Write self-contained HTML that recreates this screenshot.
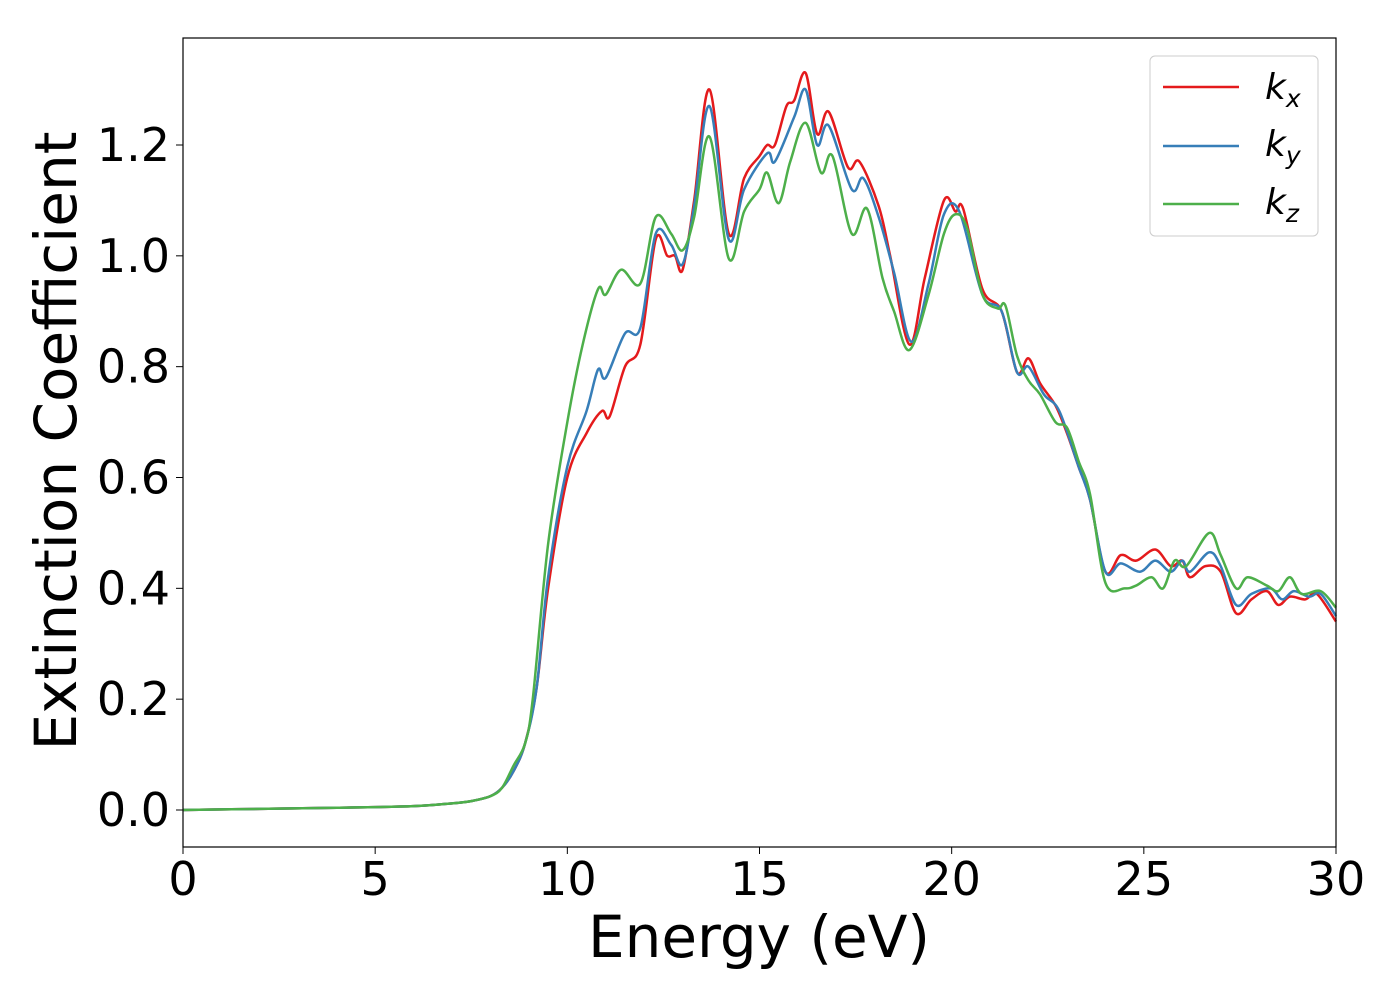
<!DOCTYPE html>
<html><head><meta charset="utf-8"><style>
body{margin:0;background:#fff}
svg text{font-family:"DejaVu Sans","Liberation Sans",sans-serif}
</style></head><body>
<svg id="chart" width="1400" height="1000" viewBox="0 0 1400 1000" xmlns="http://www.w3.org/2000/svg">
<g id="series"></g>
<rect x="183" y="38" width="1153" height="809" fill="none" stroke="#000" stroke-width="1.2"/>
<g id="axes"></g>
<text x="759" y="957" font-size="58" text-anchor="middle">Energy (eV)</text>
<text transform="translate(76,441) rotate(-90)" font-size="58" text-anchor="middle">Extinction Coefficient</text>
<g>
<rect x="1150" y="56" width="168" height="180" rx="5" fill="#fff" stroke="#ccc"/>
<line x1="1163" y1="87" x2="1239" y2="87" stroke="#e41a1c" stroke-width="2.5"/>
<line x1="1163" y1="146" x2="1239" y2="146" stroke="#377eb8" stroke-width="2.5"/>
<line x1="1163" y1="204" x2="1239" y2="204" stroke="#4daf4a" stroke-width="2.5"/>
<text x="1265" y="99" font-size="36" font-style="italic">k<tspan font-size="25" dy="8">x</tspan></text>
<text x="1265" y="156" font-size="36" font-style="italic">k<tspan font-size="25" dy="8">y</tspan></text>
<text x="1265" y="214" font-size="36" font-style="italic">k<tspan font-size="25" dy="8">z</tspan></text>
</g>
</svg>
<script>
const low=[[0,0],[2,0.002],[4,0.004],[6,0.007],[7,0.012],[7.5,0.016],[8,0.025],[8.3,0.04]];
const kxData=[[8.6,0.07],[8.9,0.12],[9.2,0.22],[9.5,0.4],[10,0.6],[10.5,0.68],[10.9,0.72],[11.1,0.71],[11.5,0.8],[11.9,0.84],[12.3,1.03],[12.6,1.0],[12.8,1.0],[13,0.975],[13.3,1.1],[13.7,1.3],[14.2,1.04],[14.6,1.14],[15,1.18],[15.2,1.2],[15.4,1.2],[15.7,1.27],[15.9,1.28],[16.2,1.33],[16.5,1.22],[16.8,1.26],[17.3,1.16],[17.6,1.17],[18.1,1.09],[18.4,1.0],[18.9,0.84],[19.3,0.96],[19.8,1.1],[20.1,1.08],[20.3,1.085],[20.8,0.94],[21.3,0.9],[21.7,0.79],[22,0.815],[22.3,0.77],[22.7,0.73],[23,0.68],[23.3,0.62],[23.6,0.56],[24,0.43],[24.4,0.46],[24.8,0.45],[25.3,0.47],[25.7,0.44],[26,0.45],[26.2,0.42],[26.6,0.44],[27,0.43],[27.4,0.355],[27.8,0.38],[28.2,0.395],[28.5,0.37],[28.8,0.385],[29.2,0.38],[29.5,0.39],[30,0.34]];
const kyData=[[8.6,0.07],[8.9,0.12],[9.2,0.22],[9.5,0.42],[10,0.62],[10.5,0.72],[10.8,0.795],[11,0.78],[11.5,0.86],[11.9,0.87],[12.3,1.04],[12.7,1.02],[13,0.985],[13.3,1.09],[13.7,1.27],[14.2,1.03],[14.6,1.12],[15.2,1.185],[15.4,1.17],[15.9,1.25],[16.2,1.3],[16.5,1.2],[16.8,1.235],[17.4,1.12],[17.7,1.14],[18.1,1.07],[18.5,0.97],[18.95,0.845],[19.4,0.95],[19.8,1.075],[20.2,1.08],[20.8,0.93],[21.3,0.9],[21.7,0.79],[22,0.8],[22.4,0.75],[22.8,0.72],[23.3,0.62],[23.6,0.56],[24,0.43],[24.4,0.445],[24.9,0.43],[25.3,0.45],[25.7,0.43],[26,0.45],[26.2,0.43],[26.7,0.465],[27,0.44],[27.4,0.37],[27.8,0.39],[28.3,0.4],[28.6,0.38],[28.9,0.395],[29.3,0.385],[29.6,0.39],[30,0.35]];
const kzData=[[8.6,0.08],[8.9,0.12],[9.1,0.2],[9.5,0.48],[10,0.7],[10.4,0.84],[10.8,0.94],[11,0.93],[11.4,0.975],[11.9,0.95],[12.3,1.07],[12.7,1.04],[13,1.01],[13.3,1.07],[13.7,1.215],[14.2,0.995],[14.6,1.08],[15,1.12],[15.2,1.15],[15.5,1.095],[15.8,1.17],[16.2,1.24],[16.6,1.15],[16.9,1.18],[17.4,1.04],[17.8,1.085],[18.2,0.96],[18.5,0.9],[18.9,0.83],[19.4,0.93],[19.8,1.04],[20.1,1.075],[20.4,1.05],[20.8,0.93],[21.2,0.905],[21.4,0.91],[21.7,0.82],[22,0.775],[22.3,0.75],[22.7,0.7],[23,0.69],[23.3,0.63],[23.6,0.57],[24,0.41],[24.5,0.4],[24.8,0.405],[25.2,0.42],[25.5,0.4],[25.8,0.45],[26.1,0.44],[26.7,0.5],[27,0.46],[27.4,0.4],[27.7,0.42],[28.2,0.405],[28.5,0.395],[28.8,0.42],[29.1,0.39],[29.6,0.395],[30,0.365]];
const xTicks=[0,5,10,15,20,25,30];
const yTicks=[0,0.2,0.4,0.6,0.8,1.0,1.2];
const NS='http://www.w3.org/2000/svg';
const X=v=>183+v*(1153/30);
const Y=v=>810-v*(665/1.2);
function path(pts){
  const p=pts.map(d=>[X(d[0]),Y(d[1])]);
  let s='M'+p[0][0]+','+p[0][1];
  for(let i=0;i<p.length-1;i++){
    const a=p[Math.max(i-1,0)],b=p[i],c=p[i+1],d=p[Math.min(i+2,p.length-1)];
    s+=' C'+(b[0]+(c[0]-a[0])/6)+','+(b[1]+(c[1]-a[1])/6)+' '+(c[0]-(d[0]-b[0])/6)+','+(c[1]-(d[1]-b[1])/6)+' '+c[0]+','+c[1];
  }
  return s;
}
const g=document.getElementById('series');
[['kx',kxData,'#e41a1c'],['ky',kyData,'#377eb8'],['kz',kzData,'#4daf4a']].forEach(([n,d,c])=>{
  const el=document.createElementNS(NS,'path');
  el.setAttribute('d',path(low.concat(d)));
  el.setAttribute('fill','none');el.setAttribute('stroke',c);el.setAttribute('stroke-width','2.5');
  
  
  g.appendChild(el);
});
const ax=document.getElementById('axes');
xTicks.forEach(t=>{
  const l=document.createElementNS(NS,'line');
  l.setAttribute('x1',X(t));l.setAttribute('x2',X(t));l.setAttribute('y1',847);l.setAttribute('y2',854);l.setAttribute('stroke','#000');
  
  
  ax.appendChild(l);
  const tx=document.createElementNS(NS,'text');
  tx.setAttribute('x',X(t));tx.setAttribute('y',895);tx.setAttribute('font-size','46');tx.setAttribute('text-anchor','middle');
  tx.textContent=t;
  
  
  ax.appendChild(tx);
});
yTicks.forEach(t=>{
  const l=document.createElementNS(NS,'line');
  l.setAttribute('x1',176);l.setAttribute('x2',183);l.setAttribute('y1',Y(t));l.setAttribute('y2',Y(t));l.setAttribute('stroke','#000');
  
  
  ax.appendChild(l);
  const tx=document.createElementNS(NS,'text');
  tx.setAttribute('x',170);tx.setAttribute('y',Y(t)+16);tx.setAttribute('font-size','46');tx.setAttribute('text-anchor','end');
  tx.textContent=t.toFixed(1);
  
  
  ax.appendChild(tx);
});
</script>
</body></html>
